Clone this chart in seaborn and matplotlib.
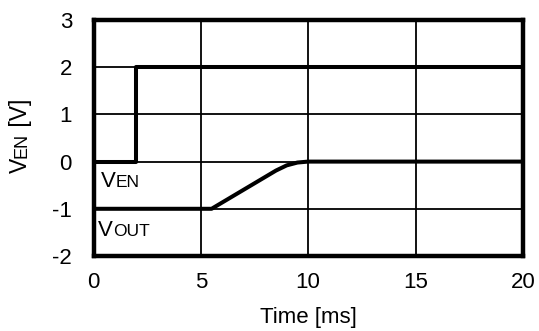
import matplotlib
matplotlib.use('Agg')
import matplotlib.pyplot as plt
import seaborn as sns
import pandas as pd

sns.set_style('white')
plt.rcParams['font.family'] = ['Liberation Sans', 'DejaVu Sans']
plt.rcParams['axes.unicode_minus'] = False
for k in ['text.color', 'axes.labelcolor', 'xtick.color', 'ytick.color']:
    plt.rcParams[k] = 'black'

# enable signal
t_en = [0, 2, 2, 20]
v_en = [0, 0, 2, 2]

# output voltage (offset by -1 V on the chart)
t_out = [0, 5.5, 6.5, 7.5, 8.5, 9.0, 9.5, 10, 20]
v_out = [-1, -1, -0.73, -0.46, -0.19, -0.08, -0.02, 0, 0]

x_ticks = [0, 5, 10, 15, 20]
y_ticks = [-2, -1, 0, 1, 2, 3]

df_en = pd.DataFrame({'t': t_en, 'v': v_en})
df_out = pd.DataFrame({'t': t_out, 'v': v_out})

fig, ax = plt.subplots(figsize=(5.39, 3.31), dpi=100)
fig.subplots_adjust(left=0.1735, right=0.970, top=0.9396, bottom=0.2266)

sns.lineplot(x='t', y='v', data=df_en, ax=ax, color='black', lw=2.9,
             sort=False, estimator=None, zorder=3)
sns.lineplot(x='t', y='v', data=df_out, ax=ax, color='black', lw=2.9,
             sort=False, estimator=None, zorder=3)

ax.set_xlim(0, 20)
ax.set_ylim(-2, 3)
ax.set_xticks(x_ticks)
ax.set_yticks(y_ticks)
ax.grid(True, color='black', lw=1.3)
ax.tick_params(labelsize=16, length=0)
ax.tick_params(axis='y', pad=15.5)
ax.tick_params(axis='x', pad=11.5)
for s in ax.spines.values():
    s.set_color('black')
    s.set_linewidth(3.2)
    s.set_zorder(4)

ax.set_xlabel('Time [ms]', fontsize=16, labelpad=10)
ax.set_ylabel('')

BIG, SMALL = 16, 12.5


def label(x, y, small):
    t1 = ax.text(x, y, 'V', fontsize=BIG, ha='left', va='baseline')
    ax.annotate(small, xy=(1, y), xycoords=(t1, 'data'), fontsize=SMALL,
                ha='left', va='baseline')


label(0.33, -0.53, 'EN')
label(0.2, -1.57, 'OUT')

# rotated y label: "V" + small "EN" + " [V]"
yl_x = 27 / 539
t1 = fig.text(yl_x, 1 - 173 / 331, 'V', fontsize=16.5, rotation=90,
              rotation_mode='anchor', ha='left', va='baseline')
t2 = fig.text(0, 0, 'EN', fontsize=13, rotation=90,
              rotation_mode='anchor', ha='left', va='baseline')
t3 = fig.text(0, 0, ' [V]', fontsize=16.5, rotation=90,
              rotation_mode='anchor', ha='left', va='baseline')
fig.canvas.draw()
r = fig.canvas.get_renderer()
inv = fig.transFigure.inverted()
top1 = inv.transform((0, t1.get_window_extent(r).y1))[1]
t2.set_position((yl_x, top1))
fig.canvas.draw()
top2 = inv.transform((0, t2.get_window_extent(r).y1))[1]
t3.set_position((yl_x, top2))

plt.savefig('out.png', dpi=100)
